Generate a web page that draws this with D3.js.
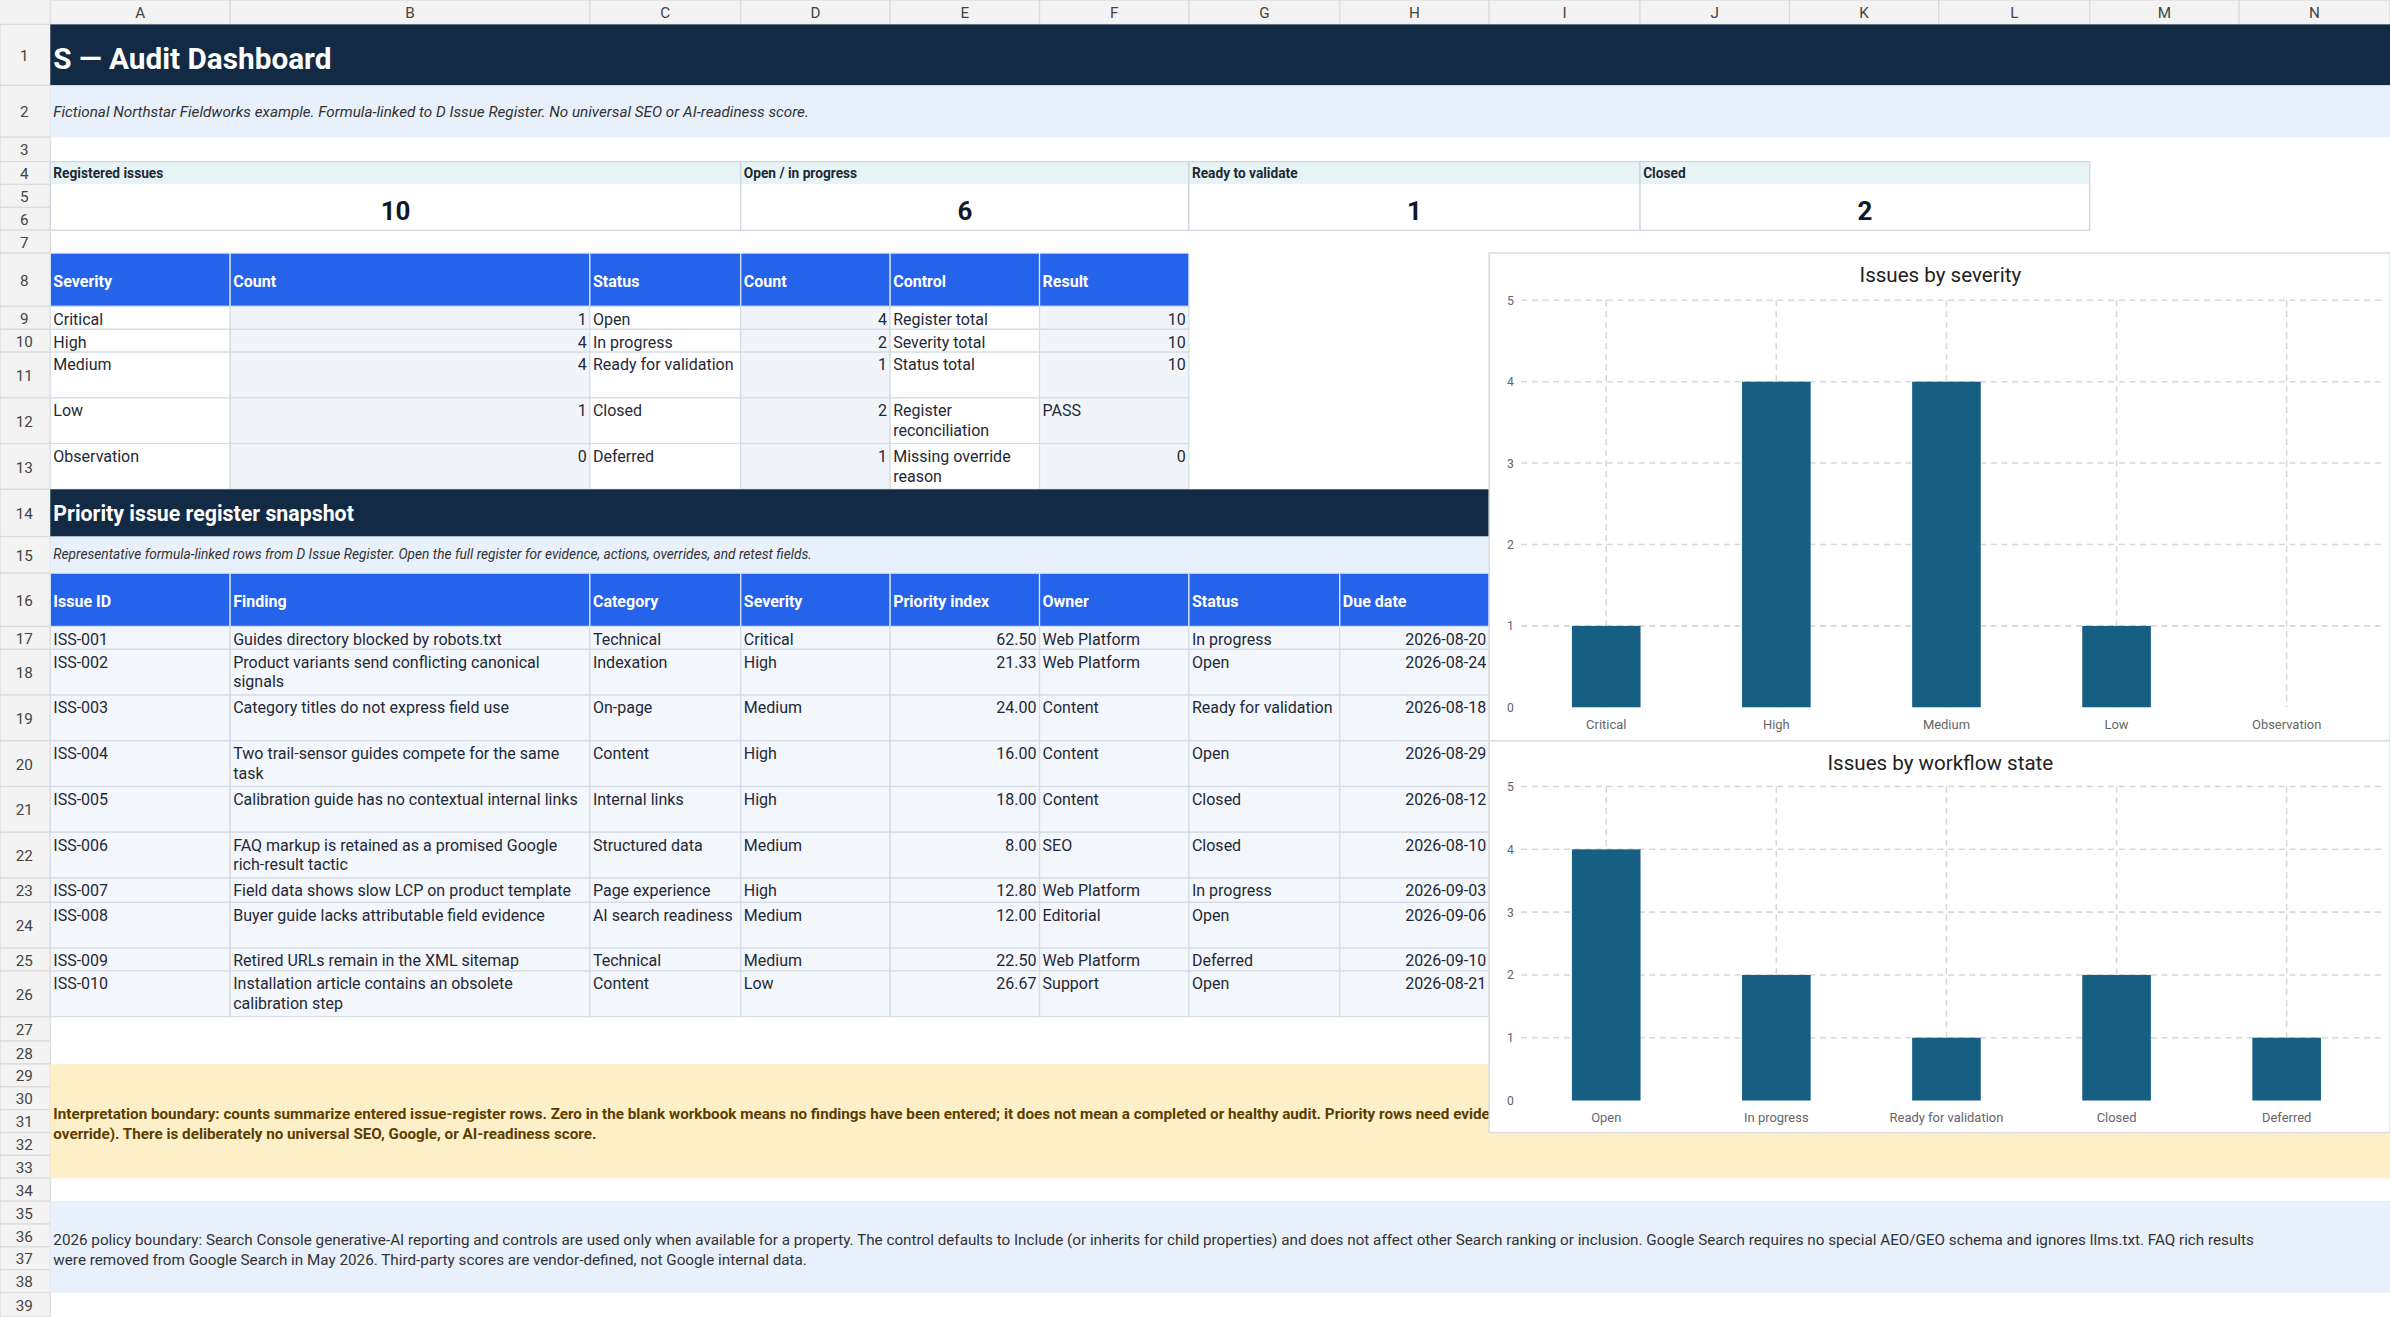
<!DOCTYPE html><html><head><meta charset="utf-8">
<script src="https://cdn.jsdelivr.net/npm/d3@7"></script>
<style>body{margin:0;background:#fff}svg{display:block;font-family:Roboto,"Noto Sans",sans-serif}</style></head><body>
<svg id="c" width="2390" height="1317" viewBox="0 0 1568 864"></svg>
<script>
const severities=["Critical","High","Medium","Low","Observation"];
const severityCounts=[1,4,4,1,0];
const statuses=["Open","In progress","Ready for validation","Closed","Deferred"];
const statusCounts=[4,2,1,2,1];
const controls=[["Register total"],["Severity total"],["Status total"],["Register","reconciliation"],["Missing override","reason"]];
const controlResults=["10","10","10","PASS","0"];
const kpiLabels=["Registered issues","Open / in progress","Ready to validate","Closed"];
const kpiValues=[10,6,1,2];
const issueIds=["ISS-001","ISS-002","ISS-003","ISS-004","ISS-005","ISS-006","ISS-007","ISS-008","ISS-009","ISS-010"];
const findings=[["Guides directory blocked by robots.txt"],["Product variants send conflicting canonical","signals"],["Category titles do not express field use"],["Two trail-sensor guides compete for the same","task"],["Calibration guide has no contextual internal links"],["FAQ markup is retained as a promised Google","rich-result tactic"],["Field data shows slow LCP on product template"],["Buyer guide lacks attributable field evidence"],["Retired URLs remain in the XML sitemap"],["Installation article contains an obsolete","calibration step"]];
const categories=["Technical","Indexation","On-page","Content","Internal links","Structured data","Page experience","AI search readiness","Technical","Content"];
const issueSev=["Critical","High","Medium","High","High","Medium","High","Medium","Medium","Low"];
const priority=[62.5,21.33,24,16,18,8,12.8,12,22.5,26.67];
const owners=["Web Platform","Web Platform","Content","Content","Content","SEO","Web Platform","Editorial","Web Platform","Support"];
const issueStatus=["In progress","Open","Ready for validation","Open","Closed","Closed","In progress","Open","Deferred","Open"];
const dueDates=["2026-08-20","2026-08-24","2026-08-18","2026-08-29","2026-08-12","2026-08-10","2026-09-03","2026-09-06","2026-09-10","2026-08-21"];
const colLetters=["A","B","C","D","E","F","G","H","I","J","K","L","M","N"];

const svg=d3.select("#c");
svg.append("defs").append("clipPath").attr("id","lc").append("rect").attr("x",0).attr("y",0).attr("width",977).attr("height",864);
const colX=[33,151,387,486,584,682,780,879,977,1076,1174,1272,1371,1469,1568];
const rowH=[40,34,16,15,15,15,15,35,15,15,30,30,30,31,24,35,15,30,30,30,30,30,16,30,15,30,16,15,15,15,15,15,15,15,15,15,15,15,16];
const rowY=[16];rowH.forEach(h=>rowY.push(rowY[rowY.length-1]+h));
const R=i=>rowY[i-1], RH=i=>rowH[i-1];
const grid="#d6dce5";
function rect(x,y,w,h,f,s){svg.append("rect").attr("x",x).attr("y",y).attr("width",w).attr("height",h).attr("fill",f).attr("stroke",s||"none").attr("stroke-width",0.8);}
function text(x,y,t,o={}){return svg.append("text").attr("x",x).attr("y",y).text(t).attr("font-size",o.fs||10.5).attr("fill",o.c||"#1f2937").attr("font-weight",o.w||400).attr("font-style",o.i?"italic":"normal").attr("text-anchor",o.a||"start");}
rect(0,0,1568,16,"#f3f3f3");
colLetters.forEach((l,i)=>{rect(colX[i],0,colX[i+1]-colX[i],16,"#f3f3f3","#dcdcdc");text((colX[i]+colX[i+1])/2,12,l,{fs:10,c:"#444",a:"middle"});});
rect(0,16,33,848,"#f3f3f3");
rowH.forEach((h,i)=>{rect(0,rowY[i],33,h,"#f3f3f3","#dcdcdc");text(16,rowY[i]+h/2+4,i+1,{fs:10,c:"#444",a:"middle"});});
rect(33,R(1),1535,RH(1),"#132a45");
text(35,R(1)+29,"S — Audit Dashboard",{fs:19.5,w:700,c:"#fff"});
rect(33,R(2),1535,RH(2),"#e8f0fc");
text(35,R(2)+21,"Fictional Northstar Fieldworks example. Formula-linked to D Issue Register. No universal SEO or AI-readiness score.",{fs:10,i:1,c:"#333"});
const kpiSpans=[[0,3],[3,6],[6,9],[9,12]];
kpiSpans.forEach((s,i)=>{const x=colX[s[0]],w=colX[s[1]]-x;
 rect(x,R(4),w,RH(4),"#e6f4f4");rect(x,R(5),w,30,"#fff");rect(x,R(4),w,45,"none","#cdd5df");
 text(x+2,R(4)+11,kpiLabels[i],{fs:9,w:700});
 text(x+w/2,R(5)+23,kpiValues[i],{fs:17,w:700,c:"#111827",a:"middle"});});
const hdr1=["Severity","Count","Status","Count","Control","Result"];
hdr1.forEach((h,i)=>{rect(colX[i],R(8),colX[i+1]-colX[i],RH(8),"#2563eb","#e0e7f5");text(colX[i]+2,R(8)+22,h,{fs:10.5,w:700,c:"#fff"});});
for(let r=0;r<5;r++){const y=R(9+r),h=RH(9+r);
 for(let c=0;c<6;c++)rect(colX[c],y,colX[c+1]-colX[c],h,c%2?"#f1f5fa":"#fff",grid);
 text(35,y+12,severities[r]);text(colX[2]-2,y+12,severityCounts[r],{a:"end"});
 text(colX[2]+2,y+12,statuses[r]);text(colX[4]-2,y+12,statusCounts[r],{a:"end"});
 controls[r].forEach((l,k)=>text(colX[4]+2,y+12+k*13,l));
 const v=controlResults[r];if(isNaN(+v))text(colX[5]+2,y+12,v);else text(colX[6]-2,y+12,v,{a:"end"});}
rect(33,R(14),944,RH(14),"#132a45");
text(35,R(14)+21,"Priority issue register snapshot",{fs:14,w:700,c:"#fff"});
rect(33,R(15),944,RH(15),"#e8f0fc");
text(35,R(15)+15,"Representative formula-linked rows from D Issue Register. Open the full register for evidence, actions, overrides, and retest fields.",{fs:9,i:1,c:"#333"});
const hdr2=["Issue ID","Finding","Category","Severity","Priority index","Owner","Status","Due date"];
hdr2.forEach((h,i)=>{rect(colX[i],R(16),colX[i+1]-colX[i],RH(16),"#2563eb","#e0e7f5");text(colX[i]+2,R(16)+22,h,{fs:10.5,w:700,c:"#fff"});});
issueIds.forEach((id,r)=>{const y=R(17+r),h=RH(17+r);
 for(let c=0;c<8;c++)rect(colX[c],y,colX[c+1]-colX[c],h,"#f3f6fa",grid);
 text(35,y+12,id);findings[r].forEach((l,k)=>text(colX[1]+2,y+12+k*13,l));
 text(colX[2]+2,y+12,categories[r]);text(colX[3]+2,y+12,issueSev[r]);
 text(colX[5]-2,y+12,priority[r].toFixed(2),{a:"end"});text(colX[5]+2,y+12,owners[r]);
 text(colX[6]+2,y+12,issueStatus[r]);text(colX[8]-2,y+12,dueDates[r],{a:"end"});});
rect(33,R(29),1535,R(34)-R(29),"#fdf0c8");
text(35,R(31)+6,"Interpretation boundary: counts summarize entered issue-register rows. Zero in the blank workbook means no findings have been entered; it does not mean a completed or healthy audit. Priority rows need evidence, owner, and retest status (or an approved override).",{fs:10,w:700,c:"#5c3d00"}).attr("clip-path","url(#lc)");
text(35,R(31)+19,"override). There is deliberately no universal SEO, Google, or AI-readiness score.",{fs:10,w:700,c:"#5c3d00"});
rect(33,R(35),1535,R(39)-R(35),"#e8f0fc");
text(35,R(36)+14,"2026 policy boundary: Search Console generative-AI reporting and controls are used only when available for a property. The control defaults to Include (or inherits for child properties) and does not affect other Search ranking or inclusion. Google Search requires no special AEO/GEO schema and ignores llms.txt. FAQ rich results",{fs:10,c:"#333"});
text(35,R(37)+12,"were removed from Google Search in May 2026. Third-party scores are vendor-defined, not Google internal data.",{fs:10,c:"#333"});
function chart(y0,y1,title,cats,vals,top,bot){
 const g=svg.append("g");
 g.append("rect").attr("x",977).attr("y",y0).attr("width",591).attr("height",y1-y0).attr("fill","#fff").attr("stroke","#d9dde3");
 g.append("text").attr("x",1273).attr("y",y0+19).attr("text-anchor","middle").attr("font-size",13.5).attr("fill","#222").text(title);
 const x=d3.scaleBand().domain(cats).range([998,1556]).paddingInner(0.6).paddingOuter(0.3);
 const y=d3.scaleLinear().domain([0,5]).range([bot,top]);
 const cx=d=>x(d)+x.bandwidth()/2;
 y.ticks(5).forEach(t=>{if(t>0)g.append("line").attr("x1",998).attr("x2",1562).attr("y1",y(t)).attr("y2",y(t)).attr("stroke","#d3d8e0").attr("stroke-dasharray","4,3");
  g.append("text").attr("x",991).attr("y",y(t)+3).attr("text-anchor","middle").attr("font-size",8).attr("fill","#666").text(t);});
 cats.forEach(c=>g.append("line").attr("x1",cx(c)).attr("x2",cx(c)).attr("y1",top).attr("y2",bot).attr("stroke","#d3d8e0").attr("stroke-dasharray","4,3"));
 g.selectAll("rect.b").data(vals).join("rect").attr("class","b").attr("x",(d,i)=>cx(cats[i])-22.5).attr("width",45).attr("y",d=>y(d)).attr("height",d=>bot-y(d)).attr("fill","#175f82");
 cats.forEach(c=>g.append("text").attr("x",cx(c)).attr("y",bot+14).attr("text-anchor","middle").attr("font-size",8.5).attr("fill","#666").text(c));
}
chart(166,486,"Issues by severity",severities,severityCounts,197,464);
chart(486,743,"Issues by workflow state",statuses,statusCounts,516,722);
</script></body></html>
